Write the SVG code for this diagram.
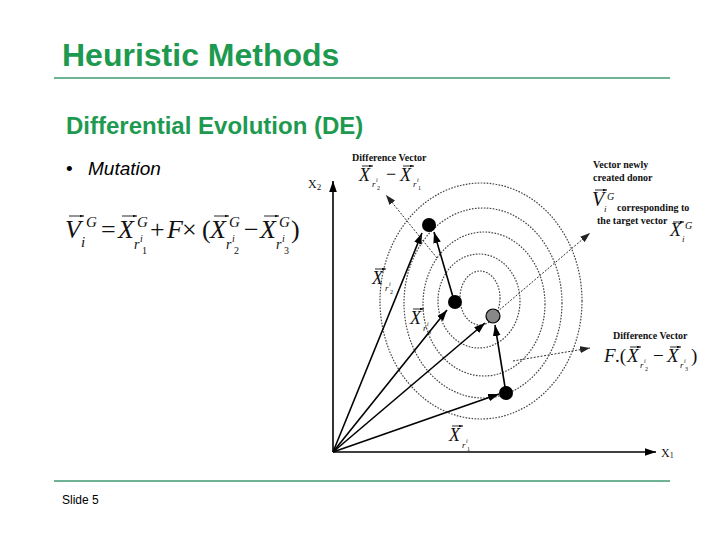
<svg xmlns="http://www.w3.org/2000/svg" width="720" height="540" viewBox="0 0 720 540">
<defs>
<style>
.title{font-family:"Liberation Sans",Arial,sans-serif;font-weight:bold;fill:#1e9a50}
.rule{stroke:#3f9a70;stroke-width:1.3}
.body{font-family:"Liberation Sans",Arial,sans-serif;fill:#000}
.m{font-family:"Liberation Serif","Times New Roman",serif;font-style:italic;fill:#111}
.n{font-style:normal}
.lb{font-family:"Liberation Serif","Times New Roman",serif;font-weight:bold;font-size:10px;fill:#111}
.ring{fill:none;stroke:#444;stroke-width:1.2;stroke-dasharray:1.6 1.4}
.solid{stroke:#000;stroke-width:1.6;fill:none}
.dash{stroke:#333;stroke-width:1;stroke-dasharray:2 1.5;fill:none}
.vec{stroke:#111;stroke-width:0.9;fill:none}
</style>
<marker id="ah" viewBox="0 0 10 7" refX="10" refY="3.5" markerWidth="11" markerHeight="8" markerUnits="userSpaceOnUse" orient="auto"><path d="M0,0 L10,3.5 L0,7 z" fill="#000"/></marker>
<marker id="ahd" viewBox="0 0 10 7" refX="10" refY="3.5" markerWidth="10" markerHeight="7" markerUnits="userSpaceOnUse" orient="auto"><path d="M0,0 L10,3.5 L0,7 z" fill="#222"/></marker>
<marker id="va" viewBox="0 0 6 4" refX="6" refY="2" markerWidth="4" markerHeight="3" markerUnits="userSpaceOnUse" orient="auto"><path d="M0,0 L6,2 L0,4 z" fill="#111"/></marker>
</defs>
<rect width="720" height="540" fill="#fff"/>

<g id="header">
<text class="title" x="62" y="66" font-size="32">Heuristic Methods</text>
<line class="rule" x1="54" y1="78" x2="670" y2="78"/>
<text class="title" x="66" y="134" font-size="24">Differential Evolution (DE)</text>
<text class="body" x="66" y="175" font-size="19">•<tspan x="88" font-style="italic">Mutation</tspan></text>
</g>

<g id="formula">
<text class="m" font-size="26"><tspan x="65" y="238">V</tspan><tspan x="81" y="247" font-size="15">i</tspan><tspan x="86" y="227" font-size="15">G</tspan><tspan class="n" x="101" y="238">=</tspan><tspan x="118" y="238">X</tspan><tspan x="137" y="227" font-size="15">G</tspan><tspan x="134" y="249" font-size="14">r</tspan><tspan x="140" y="242" font-size="10">i</tspan><tspan class="n" x="142" y="254" font-size="10">1</tspan><tspan class="n" x="150" y="238">+</tspan><tspan x="167" y="238">F</tspan><tspan class="n" x="182" y="238">×</tspan><tspan class="n" x="202" y="238">(</tspan><tspan x="210" y="238">X</tspan><tspan x="229" y="227" font-size="15">G</tspan><tspan x="226" y="249" font-size="14">r</tspan><tspan x="232" y="242" font-size="10">i</tspan><tspan class="n" x="234" y="254" font-size="10">2</tspan><tspan class="n" x="244" y="238">−</tspan><tspan x="260" y="238">X</tspan><tspan x="279" y="227" font-size="15">G</tspan><tspan x="276" y="249" font-size="14">r</tspan><tspan x="282" y="242" font-size="10">i</tspan><tspan class="n" x="284" y="254" font-size="10">3</tspan><tspan class="n" x="291" y="238">)</tspan></text>
<path class="vec" d="M69,216 L84,216" marker-end="url(#va)"/>
<path class="vec" d="M122,216 L137,216" marker-end="url(#va)"/>
<path class="vec" d="M214,216 L229,216" marker-end="url(#va)"/>
<path class="vec" d="M264,216 L279,216" marker-end="url(#va)"/>
</g>

<g id="axes">
<line class="solid" x1="333" y1="452" x2="333" y2="181" marker-end="url(#ah)"/>
<line class="solid" x1="333" y1="452" x2="656" y2="452" marker-end="url(#ah)"/>
<text class="m n" x="308" y="188" font-size="12">X<tspan font-size="9" dy="2">2</tspan></text>
<text class="m n" x="661" y="457" font-size="12">X<tspan font-size="8" dy="1">1</tspan></text>
</g>

<g id="contours">
<ellipse class="ring" cx="481" cy="301" rx="101" ry="118"/>
<ellipse class="ring" cx="483" cy="303" rx="79" ry="95"/>
<ellipse class="ring" cx="484" cy="304" rx="61" ry="72"/>
<ellipse class="ring" cx="479" cy="301" rx="41" ry="47"/>
<ellipse class="ring" cx="480" cy="298" rx="20" ry="27"/>
</g>

<g id="connectors">
<line class="solid" x1="333" y1="452" x2="422" y2="233" marker-end="url(#ah)"/>
<line class="solid" x1="333" y1="452" x2="447" y2="310" marker-end="url(#ah)"/>
<line class="solid" x1="333" y1="452" x2="485" y2="323" marker-end="url(#ah)"/>
<line class="solid" x1="333" y1="452" x2="499" y2="394" marker-end="url(#ah)"/>
<line class="solid" x1="453" y1="297" x2="434" y2="232" marker-end="url(#ah)"/>
<line class="solid" x1="505" y1="387" x2="495" y2="325" marker-end="url(#ah)"/>
<line class="dash" x1="437" y1="258" x2="386" y2="195" marker-end="url(#ahd)"/>
<line class="dash" x1="497" y1="312" x2="590" y2="233" marker-end="url(#ahd)"/>
<line class="dash" x1="513" y1="361" x2="590" y2="348" marker-end="url(#ahd)"/>
</g>

<g id="dot-r2"><circle cx="429" cy="225" r="7" fill="#000"/></g>
<g id="dot-r3"><circle cx="455" cy="302" r="7" fill="#000"/></g>
<g id="dot-target"><circle cx="493" cy="316" r="7" fill="#888" stroke="#000" stroke-width="1.2"/></g>
<g id="dot-r1"><circle cx="506" cy="393" r="7" fill="#000"/></g>

<g id="labels">
<text class="lb" x="352" y="161">Difference Vector</text>
<text class="m" font-size="18"><tspan x="359" y="181">X</tspan><tspan x="372" y="187" font-size="9">r</tspan><tspan x="376" y="182" font-size="6">i</tspan><tspan class="n" x="377" y="190" font-size="6">2</tspan><tspan class="n" x="386" y="180">−</tspan><tspan x="400" y="181">X</tspan><tspan x="413" y="187" font-size="9">r</tspan><tspan x="417" y="182" font-size="6">i</tspan><tspan class="n" x="418" y="190" font-size="6">1</tspan></text>
<path class="vec" d="M362,166 L373,166" marker-end="url(#va)"/>
<path class="vec" d="M403,166 L414,166" marker-end="url(#va)"/>

<text class="m" font-size="18"><tspan x="372" y="284">X</tspan><tspan x="385" y="291" font-size="9">r</tspan><tspan x="389" y="286" font-size="6">i</tspan><tspan class="n" x="390" y="294" font-size="6">2</tspan></text>
<path class="vec" d="M375,269 L386,269" marker-end="url(#va)"/>

<text class="m" font-size="18"><tspan x="410" y="324">X</tspan><tspan x="423" y="331" font-size="9">r</tspan><tspan x="427" y="326" font-size="6">i</tspan><tspan class="n" x="428" y="334" font-size="6">3</tspan></text>
<path class="vec" d="M413,309 L424,309" marker-end="url(#va)"/>

<text class="m" font-size="18"><tspan x="449" y="441">X</tspan><tspan x="462" y="448" font-size="9">r</tspan><tspan x="466" y="443" font-size="6">i</tspan><tspan class="n" x="467" y="451" font-size="6">1</tspan></text>
<path class="vec" d="M452,426 L463,426" marker-end="url(#va)"/>

<text class="lb" x="593" y="168">Vector newly</text>
<text class="lb" x="593" y="181">created donor</text>
<text class="m" font-size="20"><tspan x="592" y="206">V</tspan><tspan x="604" y="212" font-size="9">i</tspan><tspan x="607" y="200" font-size="10">G</tspan></text>
<path class="vec" d="M595,190 L607,190" marker-end="url(#va)"/>
<text class="lb" x="617" y="211">corresponding to</text>
<text class="lb" x="597" y="224">the target vector</text>
<text class="m" font-size="18"><tspan x="670" y="236">X</tspan><tspan x="682" y="242" font-size="9">i</tspan><tspan x="685" y="229" font-size="10">G</tspan></text>
<path class="vec" d="M673,222 L684,222" marker-end="url(#va)"/>

<text class="lb" x="613" y="339">Difference Vector</text>
<text class="m" font-size="19"><tspan x="604" y="362">F</tspan><tspan class="n" x="615" y="362">.(</tspan><tspan x="627" y="362">X</tspan><tspan x="640" y="368" font-size="9">r</tspan><tspan x="644" y="363" font-size="6">i</tspan><tspan class="n" x="645" y="371" font-size="6">2</tspan><tspan class="n" x="653" y="362">−</tspan><tspan x="667" y="362">X</tspan><tspan x="680" y="368" font-size="9">r</tspan><tspan x="684" y="363" font-size="6">i</tspan><tspan class="n" x="685" y="371" font-size="6">3</tspan><tspan class="n" x="691" y="362">)</tspan></text>
<path class="vec" d="M630,347 L641,347" marker-end="url(#va)"/>
<path class="vec" d="M670,347 L681,347" marker-end="url(#va)"/>
</g>

<g id="footer">
<line class="rule" x1="54" y1="481" x2="670" y2="481"/>
<text class="body" x="62" y="504" font-size="12" fill="#222">Slide 5</text>
</g>
</svg>
